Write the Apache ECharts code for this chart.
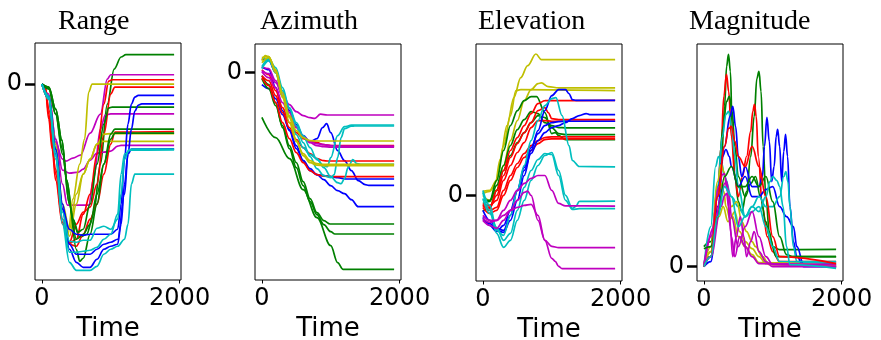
<!DOCTYPE html>
<html><head><meta charset="utf-8">
<script src="https://cdn.jsdelivr.net/npm/echarts@6/dist/echarts.min.js"></script>
<style>html,body{margin:0;padding:0;background:#fff}#c{width:881px;height:340px}</style>
</head><body><div id="c"></div>
<script>
const COLORS = {b:'#0000ff', g:'#008000', r:'#ff0000', c:'#00bfbf', m:'#bf00bf', y:'#bfbf00'};
const panelTitles = ['Range','Azimuth','Elevation','Magnitude'];
const xTickValues = [0, 2000];
const yTickValues = [0];
const xLabel = 'Time';

const rangeColors = ['g','m','m','m','r','r','r','y','y','y','g','g','g','b','b','b','c','c','c'];
const rangeLines = [
 [[0,0],[100,-0.3],[200,-2.5],[290,-5.6],[360,-9.6],[450,-13.5],[550,-15.3],[650,-15],[750,-13],[850,-8],[950,-2],[1050,1.5],[1150,2.7],[1220,2.93],[1920,2.93]],
 [[0,0],[100,-1.5],[200,-5.8],[300,-7.5],[350,-7.7],[450,-7.4],[560,-7.1],[700,-4.9],[850,-3.0],[950,0.5],[1000,0.93],[1920,0.93]],
 [[0,0],[100,-1.2],[200,-5.5],[300,-8.6],[400,-8.9],[530,-8.8],[600,-8.5],[700,-7.6],[800,-6.9],[900,-6.8],[1000,-6.7],[1100,-6.2],[1150,-6.13],[1920,-6.13]],
 [[0,0],[100,-1],[200,-5.5],[300,-10],[370,-12.1],[500,-12.1],[680,-12.1],[750,-9.5],[850,-4.5],[920,-3.1],[1000,-2.97],[1920,-2.97]],
 [[0,0],[50,-0.5],[100,-3.5],[150,-6.5],[200,-9.6],[300,-14],[400,-15.9],[500,-15.5],[600,-13],[700,-11],[800,-7],[900,-2],[970,0.3],[1020,0.43],[1920,0.43]],
 [[0,0],[50,-0.4],[100,-3],[150,-6],[200,-9],[300,-13.8],[400,-15.8],[500,-14],[600,-12.8],[700,-12.3],[800,-10],[900,-5],[1000,-1],[1060,-0.3],[1920,-0.3]],
 [[0,0],[50,-0.3],[100,-2.5],[200,-8.5],[300,-13.5],[400,-16],[500,-16.2],[600,-15],[700,-13.5],[800,-12],[900,-9],[1000,-6],[1060,-4.8],[1920,-4.75]],
 [[0,0],[100,-1.5],[200,-6.5],[300,-12.5],[380,-15],[450,-11.5],[550,-8],[620,-5.5],[680,-0.8],[730,0],[1920,0]],
 [[0,0],[100,-1.5],[200,-6.5],[300,-12.5],[400,-15.2],[500,-12],[600,-9],[700,-7.5],[800,-6],[900,-5],[1000,-4.95],[1920,-4.95]],
 [[0,0],[100,-1.2],[200,-6],[300,-12],[400,-14.5],[500,-11],[600,-9],[700,-7.5],[800,-6],[860,-5.73],[1920,-5.73]],
 [[0,0],[100,-0.3],[200,-2.5],[290,-5.6],[360,-9.6],[450,-13.5],[520,-14.8],[600,-14.5],[700,-12],[800,-8],[900,-4],[970,-2.4],[1020,-2.3],[1920,-2.3]],
 [[0,0],[100,-0.5],[200,-3],[300,-6.5],[400,-12],[500,-16.5],[550,-17.7],[600,-17.4],[700,-15],[800,-12],[900,-8],[1000,-5],[1060,-4.5],[1920,-4.5]],
 [[0,0],[100,-0.4],[200,-3],[300,-7],[400,-12],[500,-15.5],[600,-15],[700,-14],[800,-11],[900,-8],[1000,-5.5],[1060,-4.9],[1920,-4.9]],
 [[0,0],[100,-1.5],[200,-7],[300,-12.5],[400,-14.5],[500,-15],[600,-15.1],[700,-15],[800,-15],[900,-15],[1000,-15],[1100,-14.5],[1150,-12],[1200,-7.5],[1250,-4],[1300,-2],[1350,-1.3],[1400,-1.13],[1920,-1.13]],
 [[0,0],[100,-1.3],[200,-6.5],[300,-12],[400,-16],[500,-17],[600,-17],[700,-17],[800,-16.5],[900,-16],[1000,-15.8],[1100,-15.5],[1200,-11],[1250,-7],[1300,-4.5],[1350,-2.7],[1400,-2.1],[1450,-1.97],[1920,-1.97]],
 [[0,0],[100,-1.2],[200,-6.5],[300,-12.5],[400,-16.5],[500,-17.8],[600,-18.3],[700,-18.3],[800,-17.5],[900,-16.5],[1000,-16.2],[1100,-16],[1150,-14],[1200,-10],[1250,-7],[1300,-6.5],[1920,-6.47]],
 [[0,0],[100,-1.5],[200,-7.5],[300,-14],[400,-17.8],[500,-18.6],[600,-18.6],[700,-18.6],[800,-18.2],[900,-17],[1000,-16.5],[1100,-16.2],[1200,-15.5],[1250,-14],[1300,-10],[1350,-9],[1920,-9]],
 [[0,0],[100,-1.2],[200,-6.8],[300,-12.8],[400,-15.7],[500,-15.8],[600,-15.6],[700,-15.6],[800,-14.4],[900,-14.2],[1000,-14.5],[1100,-13.5],[1150,-11],[1200,-7.5],[1260,-6.6],[1920,-6.57]],
 [[0,0],[100,-1.4],[200,-7.2],[300,-13.5],[400,-16.8],[500,-16.8],[600,-16.7],[700,-16.6],[800,-16.3],[900,-15.5],[1000,-15],[1100,-13],[1150,-9],[1200,-7],[1300,-6.5],[1920,-6.5]]
];

const azimuthColors = ['b','b','b','g','g','g','r','r','r','m','m','m','c','c','c','y','y','y'];
const azimuthLines = [
 [[0,1.4],[100,1.2],[200,0],[300,-2],[400,-3.8],[500,-5.2],[600,-6.3],[700,-6.9],[800,-6.6],[880,-5.5],[940,-5.1],[1000,-6],[1100,-7.8],[1200,-8.8],[1300,-9.8],[1400,-10.8],[1500,-11.2],[1550,-11.27],[1920,-11.27]],
 [[0,-1.2],[100,-1.6],[200,-2.6],[300,-4.2],[400,-5.7],[500,-7.3],[600,-8.8],[700,-9.8],[800,-10.2],[900,-10.3],[1000,-10.4],[1100,-10.5],[1230,-10.63],[1920,-10.63]],
 [[0,0.6],[100,0.3],[200,-1.5],[300,-3.8],[400,-5.8],[500,-7.6],[600,-8.8],[700,-9.6],[800,-10.2],[900,-10.7],[1000,-11.3],[1100,-11.8],[1200,-12.1],[1300,-12.7],[1400,-13.4],[1920,-13.4]],
 [[0,-4.47],[200,-6.5],[400,-8.6],[600,-11.7],[800,-14.5],[1000,-17.3],[1100,-19],[1180,-19.67],[1920,-19.67]],
 [[0,-0.6],[100,-1.6],[200,-3.3],[300,-5.3],[400,-7.3],[500,-9.0],[600,-10.9],[700,-12.6],[800,-14.0],[900,-14.8],[990,-15.13],[1920,-15.13]],
 [[0,-0.3],[100,-1.2],[200,-3.0],[300,-5.5],[400,-7.6],[500,-9.5],[600,-11.3],[700,-12.9],[800,-14.2],[900,-15.2],[1000,-15.9],[1060,-16.13],[1920,-16.13]],
 [[0,-0.3],[100,-0.8],[200,-2.3],[300,-4],[400,-5.5],[500,-6.7],[600,-7.5],[700,-8.1],[800,-8.6],[900,-8.8],[950,-8.83],[1920,-8.83]],
 [[0,-0.5],[100,-1.3],[200,-3],[300,-5],[400,-6.6],[500,-8],[600,-9],[700,-9.8],[800,-10.2],[900,-10.35],[1040,-10.4],[1920,-10.4]],
 [[0,0.3],[100,-0.2],[200,-1.8],[300,-3.5],[400,-5],[500,-6],[600,-6.6],[700,-6.9],[800,-7.0],[900,-7.2],[1000,-7.3],[1920,-7.3]],
 [[0,0.2],[100,-0.1],[200,-1],[300,-2.3],[400,-3.2],[500,-3.9],[600,-4.3],[700,-4.5],[770,-4.57],[850,-4.15],[950,-4.23],[1920,-4.23]],
 [[0,0.1],[100,-0.5],[200,-1.5],[300,-3],[400,-4.3],[500,-5.5],[600,-6.4],[700,-6.9],[800,-7.1],[900,-7.2],[1000,-7.3],[1100,-7.35],[1920,-7.35]],
 [[0,0.6],[100,0.4],[200,-0.8],[300,-2.3],[400,-4],[500,-5.4],[600,-6.4],[700,-7.0],[800,-7.3],[900,-7.4],[1000,-7.45],[1920,-7.45]],
 [[0,0.4],[100,1.2],[200,0.3],[300,-1.8],[400,-3.5],[500,-5],[600,-6.3],[700,-7.5],[800,-8.7],[900,-9.3],[950,-9.4],[1000,-8.5],[1100,-6.3],[1200,-5.4],[1300,-5.25],[1350,-5.23],[1920,-5.23]],
 [[0,0.6],[100,1.4],[200,0.5],[300,-1.5],[400,-3.6],[500,-5.3],[600,-7],[700,-8.4],[800,-9.6],[900,-10.3],[1000,-10.5],[1050,-10.2],[1100,-8.5],[1150,-6.5],[1200,-5.6],[1300,-5.35],[1350,-5.33],[1920,-5.33]],
 [[0,1.5],[100,1.3],[200,0],[300,-2.3],[400,-4.4],[500,-6.2],[600,-7.5],[700,-8.2],[800,-8.6],[900,-9.5],[1000,-10.4],[1100,-11],[1150,-11.1],[1200,-10.6],[1250,-9.5],[1320,-8.7],[1380,-9.1],[1450,-9.17],[1920,-9.17]],
 [[0,1.2],[50,1.7],[100,1.6],[200,0],[300,-2.3],[400,-4.3],[500,-5.8],[600,-6.5],[700,-6.8],[800,-6.83],[1920,-6.83]],
 [[0,1.5],[100,1.6],[200,0.2],[300,-2.5],[400,-5],[500,-6.9],[600,-8.1],[700,-8.8],[800,-9.1],[880,-9.17],[1920,-9.17]],
 [[0,1.0],[100,1.5],[200,0.3],[300,-2],[400,-4.5],[500,-6.8],[600,-8.3],[700,-9.0],[800,-9.25],[900,-9.3],[1920,-9.3]]
];

const elevationColors = ['y','y','y','g','g','g','r','r','r','r','r','b','b','b','c','c','c','m','m','m'];
const elevationLines = [
 [[0,0.2],[100,0.4],[180,1.2],[250,3.6],[350,7],[450,9.8],[550,11.8],[650,13],[770,14.17],[850,13.6],[1920,13.6]],
 [[0,0.4],[100,0.5],[200,1.5],[300,5],[400,8],[480,10.5],[550,10.6],[1920,10.5]],
 [[0,0],[100,-0.5],[200,0.5],[300,3],[400,5.5],[500,7.5],[600,9.5],[700,10.6],[800,11.2],[850,11.27],[950,10.9],[1100,10.77],[1920,10.77]],
 [[0,-0.5],[100,-0.5],[200,1.5],[300,4.5],[400,7],[500,8.5],[600,9.5],[700,9.9],[780,9.9],[900,8.3],[1000,6.2],[1050,6.3],[1100,6.0],[1200,5.6],[1920,5.6]],
 [[0,-1.6],[100,-1.2],[200,0.5],[300,2.5],[400,4],[500,5.3],[600,6.3],[700,7.3],[800,8.0],[900,7.8],[1000,6.8],[1100,6.2],[1200,6.1],[1920,6.1]],
 [[0,-0.8],[100,-0.6],[200,1],[300,3],[400,5],[500,6.6],[600,7.6],[700,8.4],[800,8.2],[900,7.3],[1000,7.0],[1100,6.8],[1200,6.77],[1920,6.77]],
 [[0,-1],[100,-1.3],[200,0.5],[300,2.5],[400,4.5],[500,5.8],[600,7],[700,8.2],[800,9.2],[900,9.5],[1920,9.53]],
 [[0,-1.1],[100,-1.2],[200,0],[300,2],[400,3.8],[500,5.2],[600,6.3],[700,7.3],[800,8.5],[900,8.8],[950,8.3],[1000,7.7],[1100,7.6],[1920,7.6]],
 [[0,-0.8],[100,-1],[200,-0.5],[300,1.5],[400,3],[500,4.3],[600,5.3],[700,6.8],[800,7.5],[900,7.5],[1000,7.43],[1920,7.43]],
 [[0,-0.9],[100,-1.5],[200,-1.2],[300,0.5],[400,2],[500,3.2],[600,4.2],[700,5],[800,5.5],[900,5.8],[1000,5.87],[1920,5.87]],
 [[0,-1.2],[100,-1.8],[200,-1.5],[300,0],[400,1.5],[500,2.8],[600,3.8],[700,4.5],[800,5.2],[900,5.6],[1000,5.67],[1920,5.67]],
 [[0,-2.4],[100,-2.8],[200,-3.5],[300,-3.7],[400,-2.5],[500,-0.5],[600,2],[700,4.5],[800,6.5],[900,8.5],[1000,10],[1100,10.6],[1200,10.6],[1250,10.2],[1300,9.6],[1350,9.53],[1920,9.53]],
 [[0,-1.5],[100,-2.5],[200,-3.3],[300,-3.5],[400,-2],[500,0.5],[600,2.5],[700,4.2],[800,5.5],[900,6.3],[1000,6.8],[1100,7.0],[1200,7.3],[1300,7.7],[1400,8.0],[1500,8.2],[1550,8.1],[1920,8.1]],
 [[0,-2.2],[100,-3],[200,-3.6],[300,-3],[400,-1.5],[500,0.5],[600,2.8],[700,4.8],[800,6.2],[900,7.0],[1000,7.3],[1100,7.4],[1200,7.43],[1920,7.43]],
 [[0,0.5],[100,-1],[200,-3.5],[300,-4],[400,-2],[500,0.5],[600,3],[700,5.5],[800,7.5],[900,9],[1000,9.7],[1060,9.8],[1150,8],[1250,5],[1300,3.5],[1400,2.9],[1920,2.87]],
 [[0,0.3],[100,-1.5],[200,-3.8],[300,-5.2],[400,-4.5],[500,-2.5],[600,-0.5],[700,1.5],[800,3],[900,4],[1000,4.3],[1100,2.5],[1200,0],[1300,-1.3],[1350,-1.1],[1400,-0.6],[1920,-0.57]],
 [[0,-0.3],[100,-1.8],[200,-3.2],[300,-4.5],[400,-3.8],[500,-1.5],[600,0.8],[700,2.5],[800,3.6],[900,4.2],[1000,4.1],[1100,2],[1200,-0.5],[1300,-1.4],[1400,-1.33],[1920,-1.33]],
 [[0,-2.3],[100,-2.7],[200,-2.5],[300,-1.5],[400,-0.5],[500,0.5],[600,1.2],[700,1.7],[800,2],[900,2],[1000,0.5],[1100,-0.8],[1200,-1.05],[1920,-1.07]],
 [[0,-2.5],[100,-3],[200,-3.3],[300,-2.5],[400,-1.5],[500,-0.5],[600,0.3],[650,0.43],[700,0],[800,-2.5],[900,-4.5],[1000,-5.1],[1100,-5.23],[1920,-5.23]],
 [[0,-2],[100,-2.5],[200,-2.5],[300,-2],[400,-1.5],[500,-1.2],[600,-1],[700,-0.9],[800,-2],[900,-4.5],[1000,-6.3],[1050,-6.6],[1100,-7.1],[1150,-7.33],[1920,-7.33]]
];

const magnitudeColors = ['g','r','g','c','b','b','c','y','y','y','m','m','m','g','r','c'];
const magnitudeLines = [
 [[0,2],[100,2.5],[200,7],[260,11],[300,16],[330,20],[357,21.2],[385,19.5],[410,14],[450,9],[500,6.5],[550,5.5],[620,7.5],[680,11],[730,15],[770,18.8],[800,19.5],[830,17.5],[860,12],[900,7],[950,3.5],[1000,2],[1100,1.7],[1920,1.73]],
 [[0,0.5],[100,1],[200,7],[250,12],[290,17],[328,19.2],[360,17.5],[400,13],[450,9],[500,7],[560,9],[620,11],[680,13.5],[710,15.5],[735,16.2],[760,15],[790,11],[850,6],[920,3],[1000,1.5],[1100,0.5],[1920,0.5]],
 [[0,0.3],[100,1],[200,8],[280,14],[330,16.5],[370,17],[410,15.5],[450,12],[500,9],[600,7],[680,8.3],[750,9],[820,7],[900,4.5],[950,3],[1050,1],[1150,1],[1920,1]],
 [[0,0],[100,1],[200,8],[270,13],[320,15.2],[360,15.5],[400,14],[450,11],[500,8],[600,5],[700,5.5],[800,6],[900,4],[1000,2],[1100,0.5],[1920,0.3]],
 [[0,0],[100,0.5],[200,6],[300,12],[380,15],[420,16],[460,14],[500,11],[550,9],[600,10],[700,8],[800,8],[850,9],[880,12],[915,14.9],[950,12.5],[985,8.5],[1020,10],[1050,13],[1071,13.7],[1100,12],[1130,8.5],[1160,11.5],[1186,13.2],[1215,11],[1250,6],[1300,2.5],[1350,1],[1450,0],[1920,0]],
 [[0,0],[100,1],[200,7],[270,11],[320,11.7],[370,11],[400,10],[500,8],[600,9],[700,7],[800,7],[900,7.7],[1000,8],[1100,6],[1200,5],[1300,4],[1350,2],[1450,0.2],[1920,0.2]],
 [[0,0],[100,4],[170,10],[212,11],[260,10.3],[300,9],[400,7],[500,6],[600,5],[700,6],[800,7],[900,6],[1000,6],[1100,7],[1160,9],[1190,9.5],[1220,8.5],[1250,6],[1300,2],[1350,0.5],[1920,0.5]],
 [[0,0],[100,2],[200,8.5],[250,10.2],[290,9.5],[330,8],[400,6],[480,6.5],[550,4.5],[620,3.5],[700,2.5],[750,2],[850,1],[950,0.2],[1920,0]],
 [[0,0],[100,1.5],[200,7],[250,8.3],[290,7.5],[320,6],[380,4.8],[450,5.5],[520,3.5],[600,2.5],[700,1.8],[800,1],[900,0.3],[1920,0.1]],
 [[0,0.2],[100,1.5],[220,5],[280,6],[350,4.5],[420,5],[500,3],[600,2],[700,1.2],[800,0.4],[1920,0.1]],
 [[0,0],[100,3],[220,8],[270,9.2],[300,9.3],[340,7.5],[380,4],[420,1],[470,3],[530,5],[580,3],[620,1],[680,2.5],[730,3.5],[800,1.5],[900,0.5],[1000,0],[1920,0]],
 [[0,0],[150,4],[250,7],[300,8.3],[330,8.5],[360,7.5],[400,5],[500,2],[600,4],[700,5.5],[800,3],[900,1],[1000,0.2],[1920,0]],
 [[0,0.3],[100,1],[250,6],[300,7.1],[330,7.3],[360,6],[400,3],[450,1],[520,3],[600,2],[700,1],[800,0.3],[1920,0.2]],
 [[0,1.8],[100,2],[200,5],[300,9],[400,10],[500,8],[600,8],[700,9],[800,8],[900,9],[1000,6.5],[1100,3],[1200,1.2],[1300,1],[1920,1]],
 [[0,0],[100,1],[200,7],[300,12],[360,13.8],[400,14],[450,12.5],[500,11],[600,10],[700,12],[800,10],[900,7],[1000,3],[1100,1],[1920,0.3]],
 [[0,0],[100,1],[200,5],[300,8],[400,7],[500,4],[600,5],[700,6],[800,5.5],[900,7],[960,8.5],[1000,9],[1060,8.6],[1100,8],[1150,6],[1200,2],[1250,0.2],[1920,-0.17]]
];

const panels = [
 {colors: rangeColors, lines: rangeLines, ymin: -19.57, ymax: 4.1, left: 35, top: 43, h: 237, titleLeft: 53, smooth: 0.35, mono: 'x'},
 {colors: azimuthColors, lines: azimuthLines, ymin: -20.73, ymax: 2.87, left: 255, top: 44, h: 236, titleLeft: 255, smooth: 0.35, mono: 'x'},
 {colors: elevationColors, lines: elevationLines, ymin: -8.57, ymax: 15.17, left: 476, top: 44, h: 237, titleLeft: 473, smooth: 0.35, mono: 'x'},
 {colors: magnitudeColors, lines: magnitudeLines, ymin: -1.43, ymax: 22.23, left: 697, top: 44, h: 237, titleLeft: 684, smooth: 0.4, mono: 'x'}
];

const chart = echarts.init(document.getElementById('c'), null, {renderer: 'canvas'});
const labelFont = {fontFamily: 'DejaVu Sans', fontSize: 24, color: '#000'};
const option = {
  animation: false,
  backgroundColor: '#fff',
  title: panels.map((p, i) => ({
    text: panelTitles[i], left: p.titleLeft, top: 3,
    textStyle: {fontFamily: 'Liberation Serif', fontSize: 28, fontWeight: 'normal', color: '#000'}
  })),
  grid: panels.map(p => ({
    left: p.left, top: p.top, width: 146, height: p.h, show: true,
    borderColor: '#000', borderWidth: 1, backgroundColor: 'transparent',
    containLabel: false, outerBoundsMode: 'none'
  })),
  xAxis: panels.map((p, i) => ({
    gridIndex: i, type: 'value', min: -100, max: 2020, position: 'bottom',
    axisLine: {show: false, onZero: false}, splitLine: {show: false},
    axisTick: {show: true, customValues: xTickValues, length: 3.5, lineStyle: {color: '#000', width: 1}},
    axisLabel: Object.assign({customValues: xTickValues, margin: 7, formatter: v => String(v)}, labelFont),
    name: xLabel, nameLocation: 'middle', nameGap: 31,
    nameTextStyle: {fontFamily: 'DejaVu Sans', fontSize: 26, color: '#000'}
  })),
  yAxis: panels.map((p, i) => ({
    gridIndex: i, type: 'value', min: p.ymin, max: p.ymax, position: 'left',
    axisLine: {show: false, onZero: false}, splitLine: {show: false},
    axisTick: {show: true, customValues: yTickValues, length: 10, inside: false, lineStyle: {color: '#000', width: 2.5}},
    axisLabel: Object.assign({customValues: yTickValues, margin: 13, formatter: v => String(v)}, labelFont)
  })),
  series: []
};
panels.forEach((p, i) => {
  p.lines.forEach((pts, j) => {
    option.series.push({
      type: 'line', xAxisIndex: i, yAxisIndex: i, data: pts,
      showSymbol: false, symbol: 'none', smooth: p.smooth, smoothMonotone: p.mono, silent: true,
      lineStyle: {color: COLORS[p.colors[j]], width: 1.7},
      itemStyle: {color: COLORS[p.colors[j]]}
    });
  });
});
chart.setOption(option);
</script>
</body></html>
